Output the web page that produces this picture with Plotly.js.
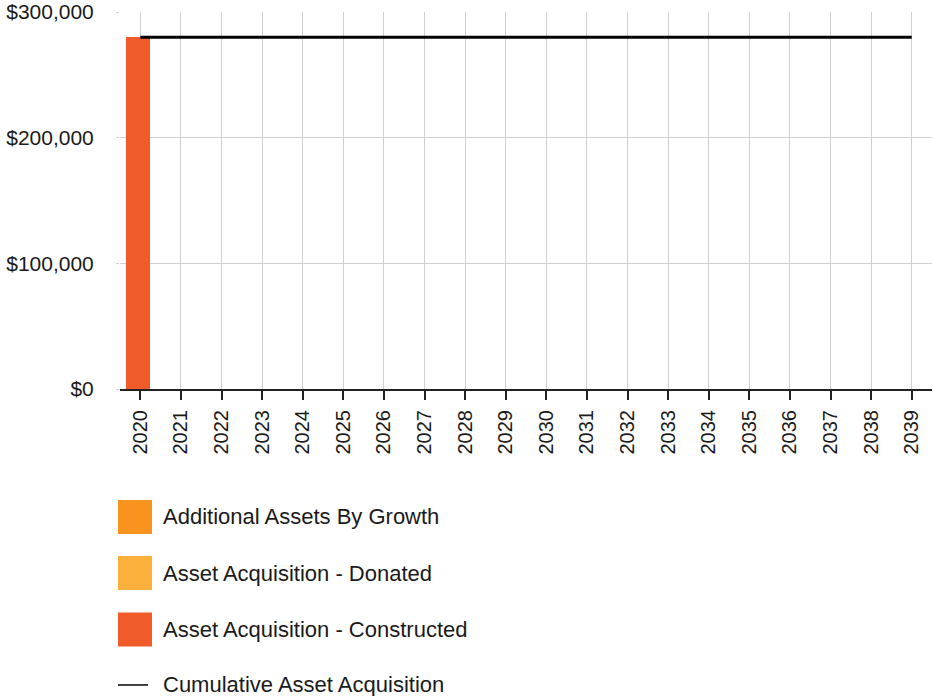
<!DOCTYPE html>
<html>
<head>
<meta charset="utf-8">
<script src="https://cdn.plot.ly/plotly-3.0.1.min.js"></script>
<style>html,body{margin:0;padding:0;background:#fff;}#chart{width:933px;height:696px;}</style>
</head>
<body>
<div id="chart"></div>
<script>
const years = ['2020','2021','2022','2023','2024','2025','2026','2027','2028','2029','2030','2031','2032','2033','2034','2035','2036','2037','2038','2039'];
const growthValues = [0,0,0,0,0,0,0,0,0,0,0,0,0,0,0,0,0,0,0,0];
const donatedValues = [0,0,0,0,0,0,0,0,0,0,0,0,0,0,0,0,0,0,0,0];
const constructedValues = [280000,0,0,0,0,0,0,0,0,0,0,0,0,0,0,0,0,0,0,0];
const cumulativeValues = [280000,280000,280000,280000,280000,280000,280000,280000,280000,280000,280000,280000,280000,280000,280000,280000,280000,280000,280000,280000];
const seriesNames = ['Additional Assets By Growth','Asset Acquisition - Donated','Asset Acquisition - Constructed','Cumulative Asset Acquisition'];
const seriesColors = ['#F7931E','#FBB03B','#F15A29','#000000'];
const yTickVals = [0,100000,200000,300000];
const yTickText = ['$0','$100,000','$200,000','$300,000'];

const FONT = 'Liberation Sans, Arial, sans-serif';

const traces = [
  {type:'bar', x:years, y:growthValues, name:seriesNames[0], marker:{color:seriesColors[0]}, width:0.6, offset:-0.35, hoverinfo:'none'},
  {type:'bar', x:years, y:donatedValues, name:seriesNames[1], marker:{color:seriesColors[1]}, width:0.6, offset:-0.35, hoverinfo:'none'},
  {type:'bar', x:years, y:constructedValues, name:seriesNames[2], marker:{color:seriesColors[2]}, width:0.6, offset:-0.35, hoverinfo:'none'},
  {type:'scatter', mode:'lines', x:years, y:cumulativeValues, name:seriesNames[3], line:{color:seriesColors[3], width:3}, hoverinfo:'none'}
];

// custom legend (big square swatches)
const legendY = [-0.3395, -0.4881, -0.6379, -0.7851];
const shapes = [];
const annotations = [];
for (let i = 0; i < 4; i++) {
  if (i < 3) {
    shapes.push({type:'rect', xref:'paper', yref:'paper', xsizemode:'pixel', ysizemode:'pixel',
      xanchor:0, yanchor:legendY[i], x0:-2, x1:32, y0:-17, y1:17,
      fillcolor:seriesColors[i], line:{width:0}});
  } else {
    shapes.push({type:'line', xref:'paper', yref:'paper', xsizemode:'pixel', ysizemode:'pixel',
      xanchor:0, yanchor:legendY[i], x0:-2, x1:28, y0:0, y1:0,
      line:{color:seriesColors[i], width:1.5}});
  }
  annotations.push({xref:'paper', yref:'paper', x:0.0505, y:legendY[i], xanchor:'left', yanchor:'middle',
    showarrow:false, text:seriesNames[i], font:{family:FONT, size:22, color:'#1a1a1a'}});
}

const layout = {
  width:933, height:696,
  margin:{l:120, r:1, t:12, b:307, pad:0},
  paper_bgcolor:'#fff', plot_bgcolor:'#fff',
  barmode:'stack',
  showlegend:false,
  font:{family:FONT, size:20, color:'#1a1a1a'},
  xaxis:{
    type:'category', range:[-0.5,19.5], tickangle:-90,
    showgrid:true, gridcolor:'#d0d0d0', gridwidth:1,
    showline:true, linecolor:'#222', linewidth:2,
    ticks:'outside', ticklen:9, tickcolor:'#222', tickwidth:2,
    tickfont:{family:FONT, size:20, color:'#1a1a1a'},
    ticklabelstandoff:2,
    layer:'above traces', fixedrange:true
  },
  yaxis:{
    range:[0,300000], tickvals:yTickVals, ticktext:yTickText,
    showgrid:true, gridcolor:'#d0d0d0', gridwidth:1,
    zeroline:false, showline:false,
    ticks:'outside', ticklen:3, tickcolor:'#d0d0d0',
    tickfont:{family:FONT, size:21, color:'#1a1a1a'},
    ticklabelstandoff:18,
    layer:'above traces', fixedrange:true
  },
  shapes:shapes,
  annotations:annotations
};

Plotly.newPlot('chart', traces, layout, {displayModeBar:false, staticPlot:true});
</script>
</body>
</html>
